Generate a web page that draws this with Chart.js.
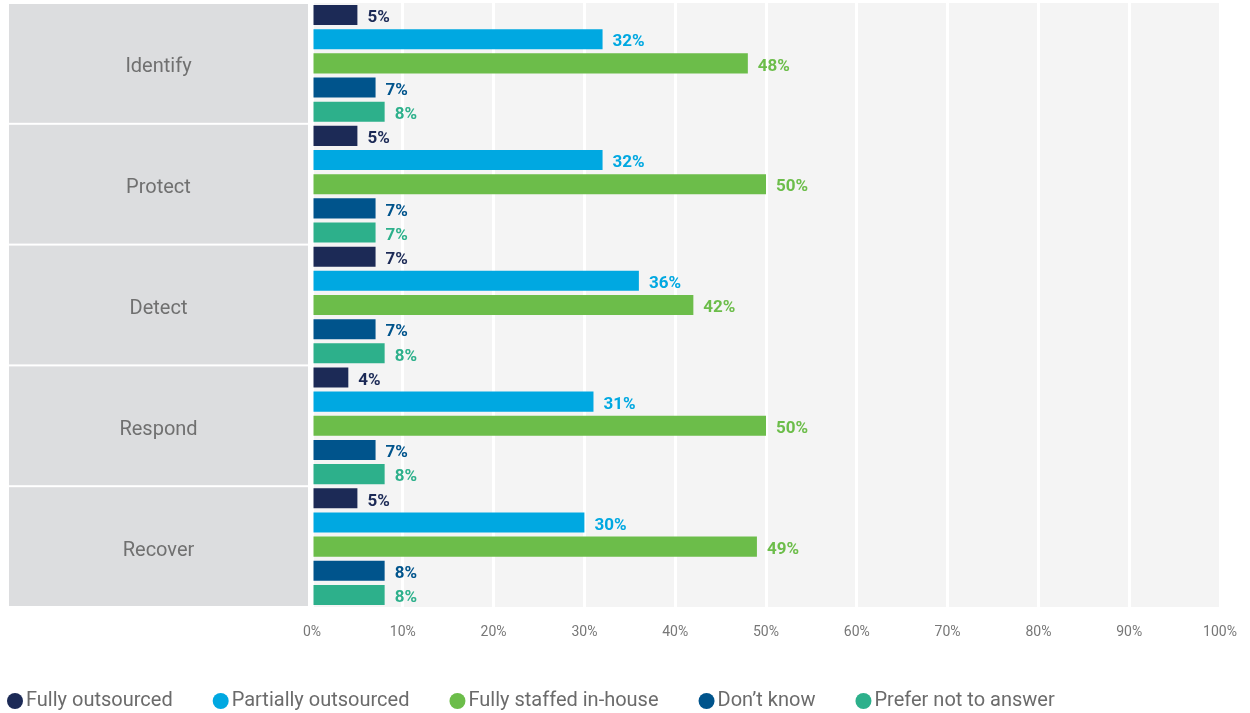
<!DOCTYPE html>
<html>
<head>
<meta charset="utf-8">
<script src="https://cdn.jsdelivr.net/npm/chart.js@4/dist/chart.umd.min.js"></script>
<style>
  html, body { margin: 0; padding: 0; background: #ffffff; }
  #wrap { width: 1250px; height: 713px; }
</style>
</head>
<body>
<div id="wrap"><canvas id="chart" width="1250" height="713"></canvas></div>
<script>
// NIST CSF functions and how each is staffed
const categories = ['Identify', 'Protect', 'Detect', 'Respond', 'Recover'];
const seriesNames = ['Fully outsourced', 'Partially outsourced', 'Fully staffed in-house', 'Don\u2019t know', 'Prefer not to answer'];
const fullyOutsourced     = [5, 5, 7, 4, 5];
const partiallyOutsourced = [32, 32, 36, 31, 30];
const fullyInHouse        = [48, 50, 42, 50, 49];
const dontKnow            = [7, 7, 7, 7, 8];
const preferNot           = [8, 7, 8, 8, 8];
const xTicks = [0, 10, 20, 30, 40, 50, 60, 70, 80, 90, 100];

const seriesColors = ['#1c2a56', '#00a8e1', '#6cbd4a', '#00548c', '#2db08b'];
const seriesValues = [fullyOutsourced, partiallyOutsourced, fullyInHouse, dontKnow, preferNot];

const FONT = 'Roboto, "Open Sans", sans-serif';
const PANEL_LEFT = 9;
const PANEL_WIDTH = 299;

// Background panels: grey label column per category and the light plot field
const panels = {
  id: 'panels',
  beforeDraw(chart) {
    const { ctx, chartArea } = chart;
    const y = chart.scales.y;
    ctx.save();
    ctx.fillStyle = '#f4f4f4';
    ctx.fillRect(chartArea.left, chartArea.top, chartArea.right - chartArea.left, chartArea.bottom - chartArea.top);
    const n = chart.data.labels.length;
    const band = (chartArea.bottom - chartArea.top) / n;
    ctx.font = '20px ' + FONT;
    ctx.textAlign = 'center';
    ctx.textBaseline = 'middle';
    for (let i = 0; i < n; i++) {
      const c = y.getPixelForTick(i);
      ctx.fillStyle = '#dcdddf';
      ctx.fillRect(PANEL_LEFT, c - band / 2 + 1, PANEL_WIDTH, band - 2);
      ctx.fillStyle = '#707070';
      ctx.fillText(y.getLabelForValue(i), PANEL_LEFT + PANEL_WIDTH / 2, c + 4);
    }
    ctx.restore();
  }
};

// Percentage labels at the end of every bar
const valueLabels = {
  id: 'valueLabels',
  afterDatasetsDraw(chart) {
    const { ctx } = chart;
    ctx.save();
    ctx.font = 'bold 17px ' + FONT;
    ctx.textBaseline = 'middle';
    ctx.textAlign = 'left';
    chart.data.datasets.forEach((ds, di) => {
      const meta = chart.getDatasetMeta(di);
      ctx.fillStyle = ds.backgroundColor;
      meta.data.forEach((bar, i) => {
        ctx.fillText(ds.data[i] + '%', bar.x + 10, bar.y + 3);
      });
    });
    ctx.restore();
  }
};

// Single-row legend along the bottom edge
const bottomLegend = {
  id: 'bottomLegend',
  afterDraw(chart) {
    const { ctx } = chart;
    ctx.save();
    ctx.font = '20px ' + FONT;
    ctx.textBaseline = 'middle';
    ctx.textAlign = 'left';
    const cy = 701;
    let x = 7;
    chart.data.datasets.forEach(ds => {
      ctx.fillStyle = ds.backgroundColor;
      ctx.beginPath();
      ctx.arc(x + 8, cy, 8, 0, Math.PI * 2);
      ctx.fill();
      ctx.fillStyle = '#6b6b6b';
      ctx.fillText(ds.label, x + 19, cy);
      x += 19 + ctx.measureText(ds.label).width + 40;
    });
    ctx.restore();
  }
};

new Chart(document.getElementById('chart'), {
  type: 'bar',
  data: {
    labels: categories,
    datasets: seriesNames.map((name, i) => ({
      label: name,
      data: seriesValues[i],
      backgroundColor: seriesColors[i],
      borderWidth: 0,
      barPercentage: 0.83,
      categoryPercentage: 1.0
    }))
  },
  options: {
    indexAxis: 'y',
    responsive: false,
    animation: false,
    layout: { padding: { left: 9, right: 30, top: 3, bottom: 46 } },
    scales: {
      x: {
        min: 0,
        max: 100,
        afterBuildTicks(scale) { scale.ticks = xTicks.map(v => ({ value: v })); },
        afterFit(scale) {
          scale.height = 60;
          scale.paddingLeft = 0;
          scale.paddingRight = 0;
        },
        grid: { color: '#ffffff', lineWidth: 3, drawTicks: false },
        border: { display: false },
        ticks: {
          padding: 17,
          color: '#777777',
          font: { family: FONT, size: 14 },
          callback: v => v + '%'
        }
      },
      y: {
        afterFit(scale) { scale.width = 303; },
        grid: { display: false, drawTicks: false },
        border: { display: false },
        ticks: { display: false }
      }
    },
    plugins: {
      legend: { display: false },
      tooltip: { enabled: false }
    }
  },
  plugins: [panels, valueLabels, bottomLegend]
});
</script>
</body>
</html>
